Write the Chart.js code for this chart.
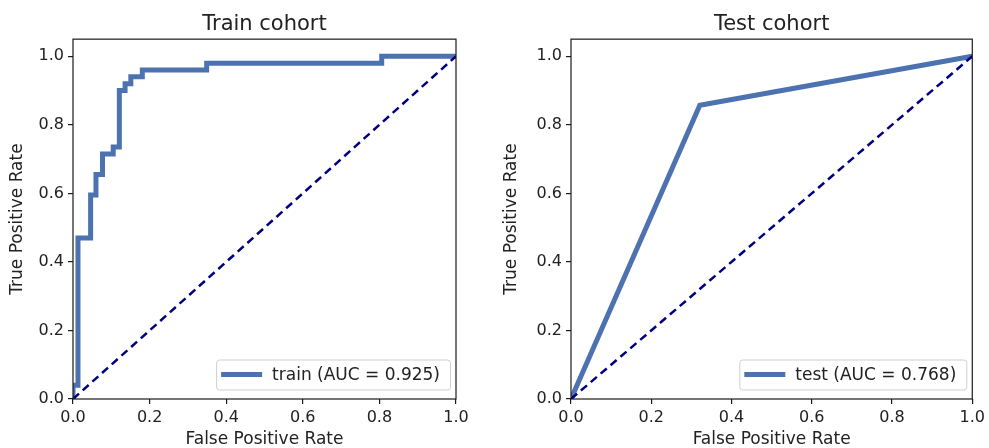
<!DOCTYPE html>
<html>
<head>
<meta charset="utf-8">
<script src="https://cdn.jsdelivr.net/npm/chart.js@4.4.0/dist/chart.umd.min.js"></script>
<style>
  html, body { margin: 0; padding: 0; background: #fff; }
  #wrap { position: relative; width: 989px; height: 448px; overflow: hidden; }
  canvas { position: absolute; top: 0; }
</style>
</head>
<body>
<div id="wrap">
  <canvas id="trainChart" width="494" height="448" style="left:0"></canvas>
  <canvas id="testChart" width="495" height="448" style="left:494px"></canvas>
</div>
<script>
// ROC data
const trainFpr = [0, 0, 0.013, 0.013, 0.046, 0.046, 0.06, 0.06, 0.077, 0.077, 0.105, 0.105, 0.121, 0.121, 0.136, 0.136, 0.151, 0.151, 0.181, 0.181, 0.349, 0.349, 0.806, 0.806, 1.0];
const trainTpr = [0, 0.04, 0.04, 0.47, 0.47, 0.595, 0.595, 0.655, 0.655, 0.715, 0.715, 0.735, 0.735, 0.90, 0.90, 0.92, 0.92, 0.94, 0.94, 0.96, 0.96, 0.98, 0.98, 1.0, 1.0];
const testFpr = [0, 0.321, 1.0];
const testTpr = [0, 0.857, 1.0];
const chanceFpr = [0, 1];
const chanceTpr = [0, 1];

const tickValues = [0, 0.2, 0.4, 0.6, 0.8, 1.0];
const tickLabels = ['0.0', '0.2', '0.4', '0.6', '0.8', '1.0'];

const FONT = "'DejaVu Sans', Verdana, sans-serif";
const TEXT = '#222';
const ROC_BLUE = '#4c72b0';

const toPoints = (xs, ys) => xs.map((x, i) => ({ x, y: ys[i] }));

// matplotlib style box on all four sides
const framePlugin = {
  id: 'frame',
  afterDatasetsDraw(chart) {
    const { ctx, chartArea: a } = chart;
    ctx.save();
    ctx.strokeStyle = '#1a1a1a';
    ctx.lineWidth = 1.2;
    ctx.strokeRect(a.left, a.top, a.right - a.left, a.bottom - a.top);
    ctx.restore();
  }
};

// legend box in the lower right of the plot
const rocLegend = {
  id: 'rocLegend',
  afterDraw(chart) {
    const ds = chart.data.datasets[0];
    const { ctx, chartArea: a } = chart;
    ctx.save();
    ctx.font = '17px ' + FONT;
    const tw = ctx.measureText(ds.label).width;
    const h = 30, w = 5 + 41 + 10 + tw + 10;
    const x = a.right - 6 - w, y = a.bottom - 9.5 - h;
    ctx.fillStyle = 'rgba(255,255,255,0.8)';
    ctx.strokeStyle = '#cfcfcf';
    ctx.lineWidth = 1;
    ctx.beginPath();
    ctx.roundRect(x + 0.5, y + 0.5, w, h, 3);
    ctx.fill();
    ctx.stroke();
    ctx.strokeStyle = ds.borderColor;
    ctx.lineWidth = ds.borderWidth;
    ctx.beginPath();
    ctx.moveTo(x + 5, y + h / 2);
    ctx.lineTo(x + 46, y + h / 2);
    ctx.stroke();
    ctx.fillStyle = TEXT;
    ctx.textBaseline = 'middle';
    ctx.fillText(ds.label, x + 56, y + h / 2 + 1);
    ctx.restore();
  }
};

function axis(title, fitFn) {
  return {
    type: 'linear',
    afterBuildTicks: s => { s.ticks = tickValues.map(v => ({ value: v })); },
    afterFit: fitFn,
    grid: { display: true, drawOnChartArea: false, drawTicks: true, tickLength: 5, color: '#1a1a1a', lineWidth: 1.2 },
    border: { display: false },
    ticks: {
      color: TEXT,
      padding: 4,
      font: { family: FONT, size: 16 },
      callback: (v, i) => tickLabels[i]
    },
    title: { display: true, text: title, color: TEXT, font: { family: FONT, size: 17, lineHeight: 1 } }
  };
}

function makeRoc(canvasId, titleText, label, fpr, tpr, yAxisWidth, padRight) {
  const x = axis('False Positive Rate', s => { s.height = 49; });
  x.min = 0; x.max = 1;
  x.title.padding = { top: 0, bottom: 0 };
  const y = axis('True Positive Rate', s => { s.width = yAxisWidth; });
  y.min = 0; y.max = 1.05;
  y.title.padding = { top: 9.5, bottom: 0 };

  return new Chart(document.getElementById(canvasId), {
    type: 'scatter',
    data: {
      datasets: [
        {
          label,
          data: toPoints(fpr, tpr),
          showLine: true,
          borderColor: ROC_BLUE,
          borderWidth: 5,
          pointRadius: 0,
          tension: 0,
          order: 2
        },
        {
          label: 'chance',
          data: toPoints(chanceFpr, chanceTpr),
          showLine: true,
          borderColor: '#000080',
          borderWidth: 2.5,
          borderDash: [8, 5],
          pointRadius: 0,
          order: 1
        }
      ]
    },
    options: {
      responsive: false,
      animation: false,
      devicePixelRatio: 1,
      layout: { padding: { left: 0, right: padRight, top: 0, bottom: 0 } },
      scales: { x, y },
      plugins: {
        legend: { display: false },
        tooltip: { enabled: false },
        title: {
          display: true,
          fullSize: false,
          text: titleText,
          color: TEXT,
          font: { family: FONT, size: 21, weight: 'normal', lineHeight: 1.15 },
          padding: { top: 12, bottom: 3 }
        }
      }
    },
    plugins: [framePlugin, rocLegend]
  });
}

makeRoc('trainChart', 'Train cohort', 'train (AUC = 0.925)', trainFpr, trainTpr, 73, 38);
makeRoc('testChart', 'Test cohort', 'test (AUC = 0.768)', testFpr, testTpr, 77, 16);
</script>
</body>
</html>
